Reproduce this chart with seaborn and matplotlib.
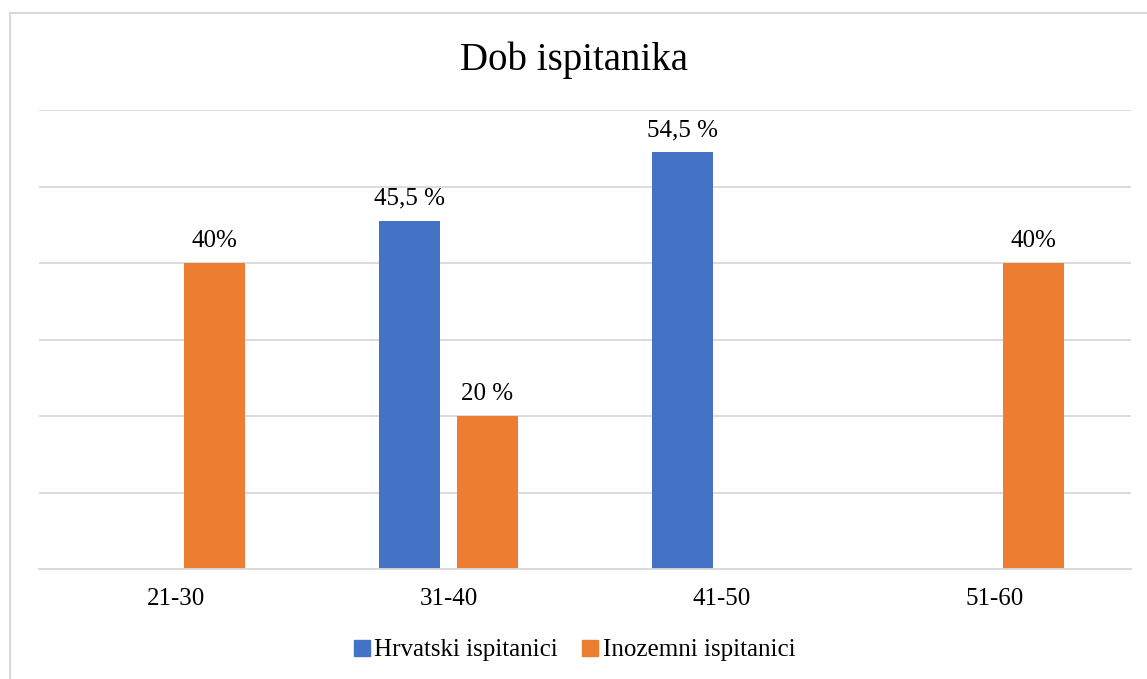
import matplotlib
matplotlib.use("Agg")
import matplotlib.pyplot as plt
import seaborn as sns
import pandas as pd
from matplotlib.lines import Line2D

# Chart data
age_groups = ["21-30", "31-40", "41-50", "51-60"]
croatian = [0, 45.5, 54.5, 0]
foreign = [40, 20, 0, 40]
croatian_labels = ["", "45,5 %", "54,5 %", ""]
foreign_labels = ["40%", "20 %", "", "40%"]
series_names = ["Hrvatski ispitanici", "Inozemni ispitanici"]
colors = ["#4472C4", "#ED7D31"]

df = pd.DataFrame({
    "age": age_groups * 2,
    "value": croatian + foreign,
    "series": [series_names[0]] * 4 + [series_names[1]] * 4,
    "label": croatian_labels + foreign_labels,
})

sns.set_theme(style="white")
plt.rcParams["font.family"] = ["Liberation Serif", "DejaVu Serif"]
plt.rcParams["text.color"] = "black"

fig = plt.figure(figsize=(11.47, 6.79), dpi=100)
ax = fig.add_axes([39 / 1147, 110 / 679, 1092 / 1147, 459 / 679])

sns.barplot(data=df, x="age", y="value", hue="series", order=age_groups,
            hue_order=series_names, palette=colors, width=0.571, gap=0.22,
            saturation=1, linewidth=0, ax=ax, legend=False)

ax.set_ylim(0, 60)
ax.set_yticks(range(0, 61, 10))
ax.yaxis.grid(True, color="#d9d9d9", linewidth=1.3)
ax.set_axisbelow(True)
ax.tick_params(axis="y", left=False, labelleft=False)
ax.tick_params(axis="x", bottom=False, labelsize=18, pad=8, colors="black")
ax.set_xlabel("")
ax.set_ylabel("")
for side in ["left", "right", "top"]:
    ax.spines[side].set_visible(False)
ax.spines["bottom"].set_color("#d9d9d9")
ax.spines["bottom"].set_linewidth(1.3)

# value labels
for container, labels in zip(ax.containers, [croatian_labels, foreign_labels]):
    ax.bar_label(container, labels=labels, padding=8, fontsize=18, color="black")

fig.text(0.5, 1 - 60 / 679, "Dob ispitanika", ha="center", va="center",
         fontsize=28, color="black")

handles = [Line2D([0], [0], marker="s", linestyle="", markersize=11,
                  markerfacecolor=c, markeredgecolor=c) for c in colors]
fig.legend(handles, series_names, loc="center", bbox_to_anchor=(0.5, 1 - 650 / 679),
           ncol=2, frameon=False, fontsize=18, handletextpad=0.1, columnspacing=0.9,
           handlelength=0.8, labelcolor="black")

# outer chart frame
fig.add_artist(Line2D([10 / 1147, 10 / 1147], [0, 1 - 13 / 679], transform=fig.transFigure,
                      color="#d9d9d9", linewidth=1.5))
fig.add_artist(Line2D([10 / 1147, 1], [1 - 13 / 679, 1 - 13 / 679], transform=fig.transFigure,
                      color="#d9d9d9", linewidth=1.5))

fig.savefig("out.png", dpi=100)
